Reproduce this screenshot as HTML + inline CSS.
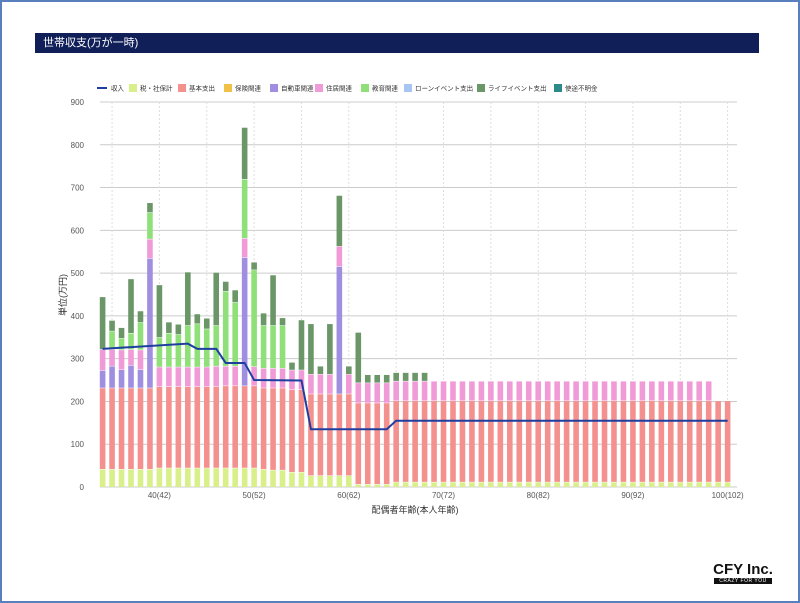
<!DOCTYPE html>
<html><head><meta charset="utf-8"><style>
html,body{margin:0;padding:0;background:#fff}
body{width:800px;height:603px;overflow:hidden;position:relative;font-family:"Liberation Sans","Noto Sans CJK JP",sans-serif}
.frame{position:absolute;left:0;top:0;width:796px;height:599px;border:2px solid #5a7fbf;box-shadow:1px 1px 2px #333}
.hdr{position:absolute;left:35px;top:33px;width:724px;height:20px;background:#101f58;color:#fff;font-size:11px;line-height:20px;padding-left:8px;box-sizing:border-box}
svg{position:absolute;left:0;top:0}
.logo{position:absolute;left:710px;top:562px;text-align:center;width:66px;white-space:nowrap}
.logo .a{font-size:15px;font-weight:bold;color:#111;line-height:15px}
.logo .b{background:#111;color:#fff;font-size:5px;line-height:6px;letter-spacing:0.5px;width:58px;margin:1px auto 0}
</style></head><body>
<div class="frame"></div>
<div class="hdr">世帯収支(万が一時)</div>
<svg id="s" width="800" height="603" font-family="Liberation Sans, Noto Sans CJK JP, sans-serif"></svg>
<div class="logo"><div class="a">CFY Inc.</div><div class="b">CRAZY FOR YOU</div></div>
<script>
var s=document.getElementById('s'),h='';
function X(a){return 102.6+(a-34)*9.47}
function Y(v){return 487-v*0.4278}
for(var v=0;v<=900;v+=100){h+='<line x1="100" x2="737" y1="'+Y(v)+'" y2="'+Y(v)+'" stroke="#ccc" stroke-width="1"/>';
h+='<text x="84" y="'+(Y(v)+3)+'" font-size="8" fill="#555" text-anchor="end">'+v+'</text>';}
for(var a=35;a<=100;a+=5){h+='<line x1="'+X(a)+'" x2="'+X(a)+'" y1="102" y2="487" stroke="#ddd" stroke-dasharray="2,2"/>';}
for(var a=40;a<=100;a+=10){h+='<text x="'+X(a)+'" y="498" font-size="8" fill="#555" text-anchor="middle">'+a+'('+(a+2)+')</text>';}
h+='<text x="415" y="513" font-size="9" fill="#333" text-anchor="middle">配偶者年齢(本人年齢)</text>';
h+='<text transform="translate(66,295) rotate(-90)" font-size="9" fill="#333" text-anchor="middle">単位(万円)</text>';
var C={t:'#d8ef8a',b:'#f4918e',c:'#a08ee0',h:'#f19ad8',e:'#8fe079',l:'#6b9668'};
var D={34:[42,232,273,322,0,445],35:[42,232,283,322,365,390],36:[42,232,275,321,348,373],37:[42,232,285,322,360,487],38:[42,232,275,321,385,412],39:[42,232,535,580,642,665],
40:[45,235,0,281,350,473],41:[45,235,0,281,360,386],42:[45,235,0,281,357,381],43:[45,235,0,281,378,503],44:[45,235,0,281,382,405],45:[45,235,0,281,370,395],46:[45,235,0,283,378,502],47:[45,237,0,283,458,481],48:[45,237,0,283,432,461],49:[45,237,537,582,720,841],50:[45,237,0,282,508,526],51:[42,232,0,278,378,407],52:[40,232,0,278,378,496],53:[40,232,0,278,378,396],54:[35,228,0,274,0,292],55:[35,228,0,274,0,391],56:[27,218,0,264,0,382],57:[27,218,0,264,0,283],58:[27,218,0,264,0,382],59:[27,218,516,563,0,682],60:[27,218,0,264,0,283],61:[7,197,0,244,0,362],62:[7,197,0,244,0,263],63:[7,197,0,244,0,263],64:[7,197,0,244,0,263]};
for(var a=65;a<=68;a++)D[a]=[12,202,0,248,0,268];
for(var a=69;a<=98;a++)D[a]=[12,202,0,248,0,0];
for(var a=99;a<=100;a++)D[a]=[12,202,0,0,0,0];
var keys=['t','b','c','h','e','l'];
for(var a=34;a<=100;a++){var d=D[a],prev=0;for(var k=0;k<6;k++){if(!d[k])continue;var y1=Y(d[k]),y0=Y(prev);
h+='<rect x="'+(X(a)-2.8)+'" y="'+(y1+0.5)+'" width="5.6" height="'+Math.max(0,y0-y1-0.5)+'" fill="'+C[keys[k]]+'"/>';prev=d[k];}}
var L={34:323,43:335,44:323,46:323,47:290,49:290,50:250,55:249,56:135,64:135,65:155,100:155};
var pts=[];for(var a in L)pts.push(X(+a)+','+Y(L[a]));
h+='<polyline points="'+pts.join(' ')+'" fill="none" stroke="#1f3fa0" stroke-width="2"/>';
h+='<line x1="97" x2="107" y1="88" y2="88" stroke="#1f3fa0" stroke-width="2"/><text x="111" y="90.5" font-size="6.5" fill="#333">収入</text>';
var lg=[[132,'#d8ef8a','税・社保計'],[181,'#f4918e','基本支出'],[227,'#f0c048','保険関連'],[273,'#a08ee0','自動車関連'],[318,'#f19ad8','住居関連'],[364,'#8fe079','教育関連'],[407,'#a8c4f0','ローンイベント支出'],[480,'#6b9668','ライフイベント支出'],[557,'#2a8a8a','使途不明金']];
lg.forEach(function(q){h+='<rect x="'+(q[0]-3)+'" y="84" width="8" height="8" fill="'+q[1]+'"/><text x="'+(q[0]+8)+'" y="90.5" font-size="6.5" fill="#333">'+q[2]+'</text>';});
s.innerHTML=h;
</script>
</body></html>
